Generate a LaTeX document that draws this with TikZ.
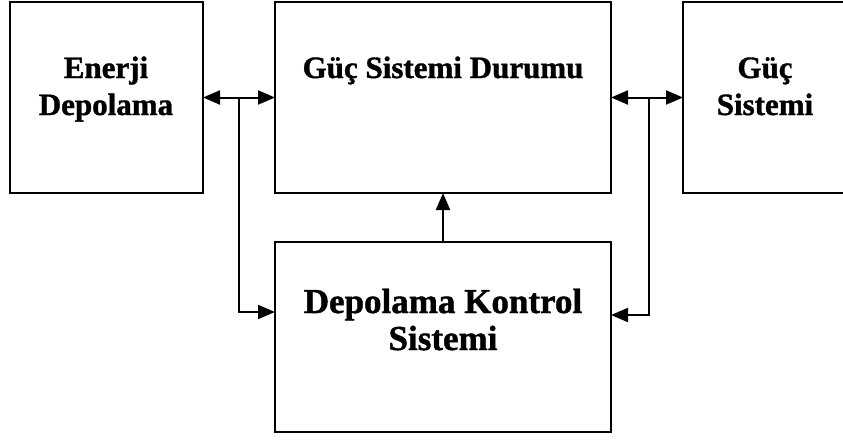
\documentclass[tikz,border=0pt]{standalone}
\usepackage{fontspec}
\setmainfont{Liberation Serif}[BoldFeatures={FakeBold=1.2}]
\usetikzlibrary{arrows.meta}
\begin{document}
\begin{tikzpicture}[x=1pt,y=-1pt,
  block/.style={draw, line width=2pt, inner sep=0pt, outer sep=0pt},
  label/.style={font=\bfseries\fontsize{31}{37}\selectfont, align=center, anchor=base, inner sep=0pt},
  biglabel/.style={label, font=\bfseries\fontsize{35}{37}\selectfont},
  link/.style={line width=2pt},
  tip/.style={-{Triangle[length=17pt,width=14pt]}},
  tips/.style={{Triangle[length=17pt,width=14pt]}-{Triangle[length=17pt,width=14pt]}}]
\useasboundingbox (0,0) rectangle (843,439);
\clip (0,0) rectangle (843,439);

% blocks
\node[block, minimum width=193pt, minimum height=191pt] (enerji) at (106.5,97.5) {};
\node[block, minimum width=336pt, minimum height=191pt] (durum) at (443,97.5) {};
\node[block, minimum width=170pt, minimum height=191pt] (guc) at (768,97.5) {};
\node[block, minimum width=336pt, minimum height=190pt] (kontrol) at (443,337) {};

% block texts
\node[label] (tEnerji) at (106,78) {Enerji};
\node[label] (tDepo) at (106,115) {Depolama};
\node[label] (tDurum) at (443,78) {Güç Sistemi Durumu};
\node[label] (tGuc) at (765,78) {Güç};
\node[label] (tSis) at (765,115) {Sistemi};
\node[biglabel] (tKontrol) at (443,313) {Depolama Kontrol};
\node[biglabel] (tSis2) at (443,350) {Sistemi};

% branch points
\coordinate (lj) at (239,97.5);
\coordinate (lb) at (239,312);
\coordinate (rj) at (649,97.5);
\coordinate (rb) at (649,315);

% connectors
\draw[link, tips] (enerji) -- (durum);
\draw[link, tips] (durum) -- (guc);
\draw[link, tip] (lj) -- (lb) -- (lb -| kontrol.west);
\draw[link, tip] (rj) -- (rb) -- (rb -| kontrol.east);
\draw[link, tip] (kontrol) -- (durum);
\end{tikzpicture}
\end{document}
